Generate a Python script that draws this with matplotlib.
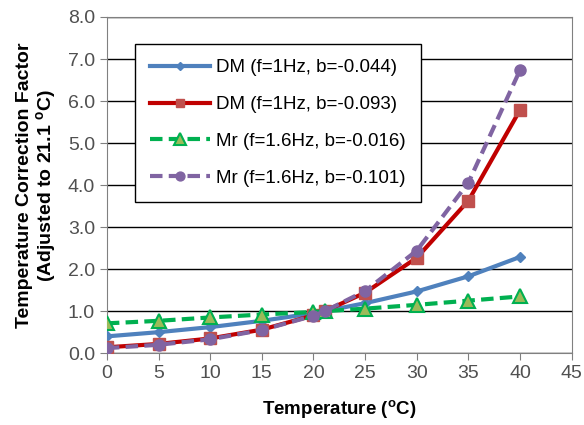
import matplotlib
matplotlib.use('Agg')
import matplotlib.pyplot as plt

plt.rcParams['font.family'] = ['Liberation Sans', 'DejaVu Sans']

temps = [0, 5, 10, 15, 20, 21.1, 25, 30, 35, 40]
dm_044 = [0.40, 0.50, 0.62, 0.77, 0.95, 1.00, 1.19, 1.47, 1.83, 2.29]
dm_093 = [0.14, 0.22, 0.35, 0.56, 0.90, 1.00, 1.44, 2.27, 3.63, 5.79]
mr_016 = [0.71, 0.77, 0.85, 0.92, 0.98, 1.00, 1.06, 1.15, 1.25, 1.35]
mr_101 = [0.12, 0.20, 0.33, 0.55, 0.89, 1.00, 1.48, 2.44, 4.06, 6.74]

labels = ['DM (f=1Hz, b=-0.044)', 'DM (f=1Hz, b=-0.093)',
          'Mr (f=1.6Hz, b=-0.016)', 'Mr (f=1.6Hz, b=-0.101)']
xticks = list(range(0, 50, 5))
yticks = [i * 1.0 for i in range(9)]

fig = plt.figure(figsize=(5.84, 4.25), dpi=100)
ax = fig.add_axes([0.183, 0.169, 0.796, 0.791])

ax.plot(temps, dm_044, color='#4F81BD', lw=3, marker='D', ms=5,
        mfc='#4F81BD', mec='#4F81BD', label=labels[0], zorder=3)
ax.plot(temps, dm_093, color='#C00000', lw=3, marker='s', ms=8,
        mfc='#C0504D', mec='#C0504D', label=labels[1], zorder=3)
ax.plot(temps, mr_016, color='#00B050', lw=3, ls=(0, (3, 1.5)), marker='^', ms=10,
        mfc='#9BBB59', mec='#00B050', mew=1.5, label=labels[2], zorder=4)
ax.plot(temps, mr_101, color='#8064A2', lw=3, ls=(0, (3, 1.5)), marker='o', ms=8,
        mfc='#8064A2', mec='#8064A2', label=labels[3], zorder=5)

ax.set_xlim(0, 45)
ax.set_ylim(0, 8)
ax.set_xticks(xticks)
ax.set_yticks(yticks)
ax.set_yticklabels(['%.1f' % v for v in yticks])
ax.yaxis.grid(True, color='black', lw=1)
ax.set_axisbelow(True)
for s in ax.spines.values():
    s.set_color('#808080')
ax.tick_params(axis='both', labelsize=14, colors='#505050', length=5, direction='out')
ax.tick_params(axis='both', color='#808080')

ax.set_xlabel('Temperature ($^\\mathregular{o}$C)', fontsize=13.5, fontweight='bold', labelpad=12)
ax.set_ylabel('Temperature Correction Factor\n(Adjusted to 21.1 $^\\mathregular{o}$C)',
              fontsize=14, fontweight='bold', labelpad=6, linespacing=1.1)

leg = ax.legend(loc='upper left', bbox_to_anchor=(0.041, 0.947), fontsize=13.5,
                frameon=True, fancybox=False, edgecolor='black', framealpha=1,
                handlelength=3.2, handletextpad=0.3, labelspacing=1.05,
                borderpad=0.8, markerscale=0.8)
leg.get_frame().set_linewidth(1)

plt.savefig('out.png', dpi=100)
